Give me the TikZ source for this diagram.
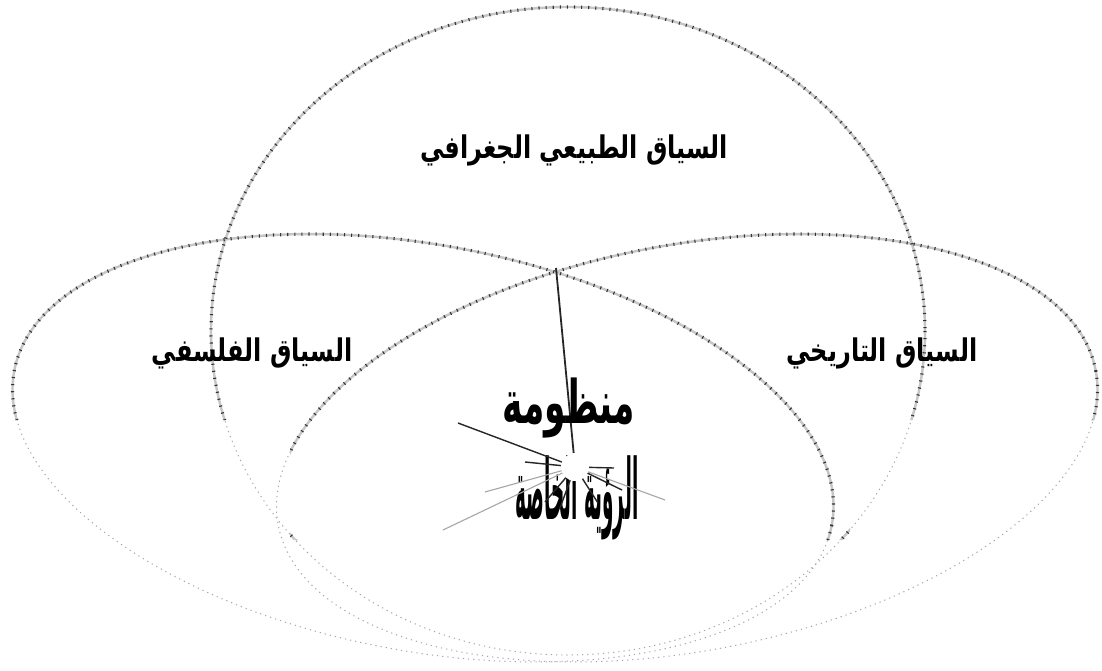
\documentclass[tikz,border=0pt]{standalone}
\usepackage{fontspec}
\usepackage{graphicx}
\newfontfamily\arabicfont[Script=Arabic]{DejaVu Sans}
\TeXXeTstate=1
\newcommand\ctxellipses[1]{%
  \path[#1] (568,331) ellipse [x radius=357, y radius=324];
  \path[#1, rotate around={-10.7:(423,448)}] (423,448) ellipse [x radius=416, y radius=203];
  \path[#1, rotate around={10.7:(687,448)}] (687,448) ellipse [x radius=416, y radius=203];
}
\begin{document}
\begin{tikzpicture}[x=1pt,y=-1pt,
  faint/.style={draw=gray!70, line width=1pt, dash pattern=on 1.2pt off 4pt},
  base/.style={draw=gray!45, line width=2.4pt},
  ticks/.style={draw=black!80, line width=3.2pt, dash pattern=on 1.1pt off 6pt},
  lbl/.style={font=\arabicfont\bfseries\fontsize{24}{28}\selectfont, inner sep=0pt},
  core text/.style={font=\arabicfont\bfseries\fontsize{40}{44}\selectfont, inner sep=0pt},
  ray/.style={line width=1.4pt, black!85},
  soft ray/.style={line width=1.1pt, gray!70},
]
\fill[white] (0,0) rectangle (1102,671);
\useasboundingbox (0,0) rectangle (1102,671);

\ctxellipses{faint}
\begin{scope}
  \clip (0,0) rectangle (1102,420) (290,420) rectangle (850,540);
  \ctxellipses{base}
  \ctxellipses{ticks}
\end{scope}

\node[lbl] (geo) at (574,150) {\scalebox{1}[1.3]{\beginR السياق الطبيعي الجغرافي\endR}};
\node[lbl] (phil) at (252,353) {\scalebox{1}[1.3]{\beginR السياق الفلسفي\endR}};
\node[lbl] (hist) at (882,353) {\scalebox{1}[1.3]{\beginR السياق التاريخي\endR}};

\coordinate (cusp) at (556,268);
\coordinate (corec) at (575,467);
\draw[ray, line width=1.8pt] (cusp) -- (corec);

\node[core text] (sys) at (569,408) {\scalebox{0.86}[1.5]{\beginR منظومة\endR}};
\node[core text] (vision) at (577,498) {\scalebox{0.46}[2.1]{\beginR الرؤية الخاصة\endR}};

\coordinate (r1) at (458,423);
\coordinate (r2) at (443,530);
\coordinate (r3) at (485,492);
\coordinate (r4) at (665,500);
\coordinate (r5) at (525,462);
\coordinate (r6) at (545,502);
\coordinate (r7) at (560,508);
\coordinate (r8) at (614,468);
\coordinate (r9) at (622,490);
\coordinate (r10) at (598,503);
\draw[ray] (corec) -- (r1);
\draw[soft ray] (corec) -- (r2);
\draw[soft ray] (corec) -- (r3);
\draw[soft ray] (corec) -- (r4);
\draw[ray] (corec) -- (r5);
\draw[ray] (corec) -- (r6);
\draw[ray] (corec) -- (r7);
\draw[ray] (corec) -- (r8);
\draw[ray] (corec) -- (r9);
\draw[ray] (corec) -- (r10);
\node[circle, fill=white, minimum size=28pt, inner sep=0pt] (core) at (corec) {};
\end{tikzpicture}
\end{document}
